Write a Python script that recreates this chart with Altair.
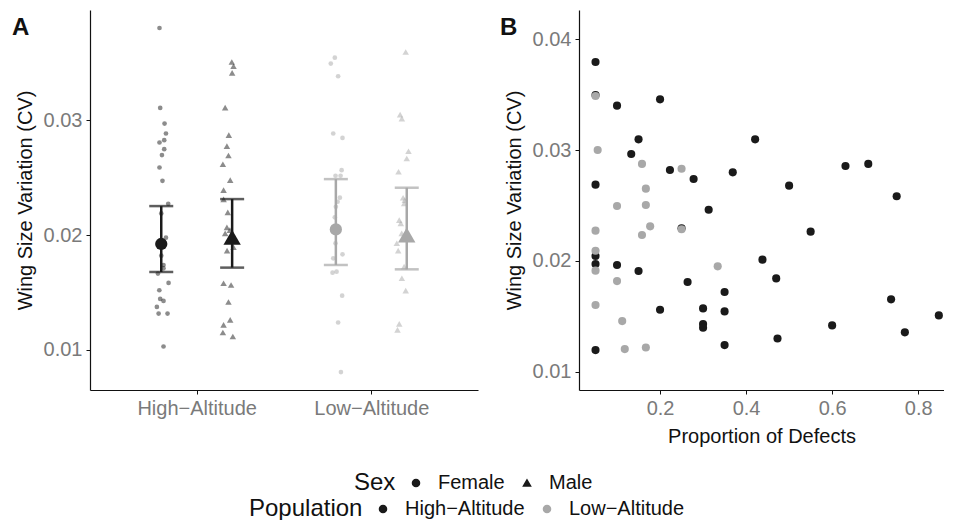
import altair as alt
import pandas as pd

populations = ["High−Altitude", "Low−Altitude"]
sexes = ["Female", "Male"]
pop_colors = ["#1a1a1a", "#a8a8a8"]

# ---- Panel A: individual values (CV) and horizontal jitter (category units)
hf_cv = [0.03803, 0.03107, 0.02971, 0.02884, 0.02806, 0.02826, 0.02748, 0.02696, 0.02588,
         0.02472, 0.02272, 0.02188, 0.01977, 0.01820, 0.01739, 0.01710, 0.01664, 0.01583,
         0.01519, 0.01443, 0.01426, 0.01374, 0.01316, 0.01316, 0.01029]
hf_jit = [-0.010, -0.006, 0.019, 0.027, -0.010, 0.017, 0.017, 0.004, -0.010, 0.007, 0.040, 0.0,
          0.027, 0.0, 0.013, 0.013, -0.019, 0.042, -0.011, -0.006, 0.013, -0.025, -0.015, 0.036, 0.013]

hm_cv = [0.03507, 0.03470, 0.03412, 0.03110, 0.02870, 0.02774, 0.02693, 0.02617, 0.02478,
         0.02391, 0.02310, 0.02197, 0.02067, 0.02014, 0.02043, 0.01893, 0.01864, 0.01580,
         0.01565, 0.01417, 0.01261, 0.01217, 0.01151, 0.01116]
hm_jit = [-0.002, 0.008, 0.0, -0.040, -0.019, -0.030, -0.021, -0.053, -0.011, -0.049, -0.049,
          -0.025, -0.030, -0.040, -0.013, 0.008, -0.029, -0.049, -0.006, -0.021, -0.011, -0.049,
          -0.053, 0.004]

lf_cv = [0.03545, 0.03493, 0.03383, 0.02884, 0.02846, 0.02565, 0.02516, 0.02516, 0.02325,
         0.02290, 0.02246, 0.02154, 0.01928, 0.01797, 0.01832, 0.01672, 0.01681, 0.01472,
         0.01238, 0.00806]
lf_jit = [-0.006, -0.029, 0.013, -0.015, 0.038, 0.033, -0.002, 0.027, 0.023, 0.010, 0.0, -0.006,
          -0.002, -0.015, 0.038, -0.019, 0.004, 0.036, 0.013, 0.029]

lm_cv = [0.03594, 0.03049, 0.03014, 0.02730, 0.02667, 0.02551, 0.02325, 0.02304, 0.02275,
         0.02130, 0.02101, 0.02014, 0.01928, 0.01864, 0.01725, 0.01623, 0.01516, 0.01226, 0.01174]
lm_jit = [-0.006, -0.038, -0.028, 0.010, 0.0, -0.047, -0.021, -0.011, -0.015, -0.043, -0.034,
          -0.029, -0.057, -0.049, -0.015, -0.028, -0.006, -0.043, -0.053]

# ---- Panel A: group means and error bars (HF, HM, LF, LM)
sum_pop = ["High−Altitude", "High−Altitude", "Low−Altitude", "Low−Altitude"]
sum_sex = ["Female", "Male", "Female", "Male"]
sum_mean = [0.01922, 0.01980, 0.02049, 0.02000]
sum_lo = [0.01678, 0.01716, 0.01739, 0.01701]
sum_hi = [0.02252, 0.02313, 0.02487, 0.02412]

# ---- Panel B
high_prop = [0.05, 0.05, 0.10, 0.20, 0.15, 0.133, 0.421, 0.223, 0.278, 0.369, 0.05, 0.50,
             0.631, 0.684, 0.75, 0.313, 0.55, 0.25, 0.05, 0.05, 0.10, 0.15, 0.438, 0.47,
             0.264, 0.35, 0.737, 0.20, 0.30, 0.35, 0.30, 0.30, 0.60, 0.848, 0.769, 0.473,
             0.35, 0.05]
high_cv = [0.03795, 0.03497, 0.03401, 0.03458, 0.03097, 0.02965, 0.03097, 0.02820, 0.02739,
           0.02799, 0.02688, 0.02679, 0.02856, 0.02875, 0.02583, 0.02462, 0.02264, 0.02294,
           0.02044, 0.01972, 0.01963, 0.01909, 0.02011, 0.01842, 0.01809, 0.01719, 0.01653,
           0.01559, 0.01571, 0.01544, 0.01430, 0.01397, 0.01418, 0.01508, 0.01355, 0.01300,
           0.01240, 0.01195]
low_prop = [0.05, 0.055, 0.158, 0.25, 0.167, 0.10, 0.167, 0.05, 0.177, 0.158, 0.25, 0.05,
            0.05, 0.10, 0.334, 0.05, 0.112, 0.118, 0.167]
low_cv = [0.03488, 0.03001, 0.02875, 0.02832, 0.02652, 0.02495, 0.02504, 0.02273, 0.02312,
          0.02234, 0.02285, 0.02092, 0.01912, 0.01818, 0.01951, 0.01602, 0.01457, 0.01204,
          0.01219]

DODGE = 0.203
FONT = "Liberation Sans"


def pos_of(pop, sex):
    return populations.index(pop) + 1 + (-DODGE if sex == "Female" else DODGE)


rows = []
for pop, sex, cvs, jits in [
    (populations[0], "Female", hf_cv, hf_jit),
    (populations[0], "Male", hm_cv, hm_jit),
    (populations[1], "Female", lf_cv, lf_jit),
    (populations[1], "Male", lm_cv, lm_jit),
]:
    for v, j in zip(cvs, jits):
        rows.append({"Population": pop, "Sex": sex, "cv": v, "pos": pos_of(pop, sex) + j})
pts = pd.DataFrame(rows)

summ = pd.DataFrame({"Population": sum_pop, "Sex": sum_sex, "cv": sum_mean,
                     "lo": sum_lo, "hi": sum_hi})
summ["pos"] = [pos_of(p, s) for p, s in zip(sum_pop, sum_sex)]
caps = pd.concat([
    summ[["Population", "pos"]].assign(cv=summ["lo"]),
    summ[["Population", "pos"]].assign(cv=summ["hi"]),
])

dfB = pd.concat([
    pd.DataFrame({"prop": high_prop, "cv": high_cv, "Population": populations[0]}),
    pd.DataFrame({"prop": low_prop, "cv": low_cv, "Population": populations[1]}),
])

label_expr = "datum.value == 1 ? '%s' : '%s'" % (populations[0], populations[1])

xA = alt.X("pos:Q",
           scale=alt.Scale(domain=[0.389, 2.611], nice=False, zero=False),
           axis=alt.Axis(values=[1, 2], labelExpr=label_expr, title=None))
yA_scale = alt.Scale(domain=[0.0065, 0.0396], nice=False, zero=False)
yA_axis = alt.Axis(values=[0.01, 0.02, 0.03], format=".2f", title="Wing Size Variation (CV)")


def yA(field):
    return alt.Y(field, scale=yA_scale, axis=yA_axis, title="Wing Size Variation (CV)")


color_enc = alt.Color(
    "Population:N",
    scale=alt.Scale(domain=populations, range=pop_colors),
    legend=alt.Legend(orient="none", legendX=159, legendY=489, direction="horizontal",
                      titleOrient="left", title="Population", symbolType="circle",
                      symbolSize=50, symbolOpacity=1, labelOffset=12, columnPadding=12,
                      titlePadding=10),
)
shape_enc = alt.Shape(
    "Sex:N",
    scale=alt.Scale(domain=sexes, range=["circle", "triangle-up"]),
    legend=alt.Legend(orient="none", legendX=264, legendY=463, direction="horizontal",
                      titleOrient="left", title="Sex", symbolFillColor="#1a1a1a",
                      symbolStrokeColor="#1a1a1a", symbolSize=50, symbolOpacity=1,
                      labelOffset=12, columnPadding=12, titlePadding=10),
)

jit = alt.Chart(pts).mark_point(filled=True, opacity=0.5).encode(
    x=xA, y=yA("cv:Q"), color=color_enc, shape=shape_enc,
    size=alt.Size("Sex:N", scale=alt.Scale(domain=sexes, range=[22, 42]), legend=None))
bars = alt.Chart(summ).mark_rule(strokeWidth=2.5).encode(
    x=xA, y=yA("lo:Q"), y2="hi:Q", color=color_enc)
capm = alt.Chart(caps).mark_tick(orient="horizontal", size=24, thickness=2.5).encode(
    x=xA, y=yA("cv:Q"), color=color_enc)
means = alt.Chart(summ).mark_point(filled=True, opacity=1).encode(
    x=xA, y=yA("cv:Q"), color=color_enc, shape=shape_enc,
    size=alt.Size("Sex:N", scale=alt.Scale(domain=sexes, range=[150, 300]), legend=None))
labA = alt.Chart(pd.DataFrame({"t": ["A"]})).mark_text(
    font=FONT, fontSize=24, fontWeight="bold", align="left", baseline="middle",
    color="#111111").encode(text="t:N", x=alt.value(-78), y=alt.value(18))

panelA = alt.layer(jit, bars, capm, means, labA).resolve_scale(size="independent").properties(
    width=388, height=380)

xB = alt.X("prop:Q", scale=alt.Scale(domain=[0.0116, 0.86], nice=False, zero=False),
           axis=alt.Axis(values=[0.2, 0.4, 0.6, 0.8], format=".1f",
                         title="Proportion of Defects"))
yB = alt.Y("cv:Q", scale=alt.Scale(domain=[0.00835, 0.04264], nice=False, zero=False),
           axis=alt.Axis(values=[0.01, 0.02, 0.03, 0.04], format=".2f",
                         title="Wing Size Variation (CV)"))
ptsB = alt.Chart(dfB).mark_circle(size=66, opacity=1).encode(x=xB, y=yB, color=color_enc)
labB = alt.Chart(pd.DataFrame({"t": ["B"]})).mark_text(
    font=FONT, fontSize=24, fontWeight="bold", align="left", baseline="middle",
    color="#111111").encode(text="t:N", x=alt.value(-79), y=alt.value(18))
panelB = alt.layer(ptsB, labB).properties(width=365, height=380)

chart = alt.hconcat(panelA, panelB, spacing=22).resolve_scale(
    x="independent", y="independent", color="shared"
).properties(
    padding={"left": 4, "top": 2, "right": 0, "bottom": 0}
).configure(font=FONT).configure_view(stroke=None).configure_axis(
    grid=False, domainColor="#111111", domainWidth=1.2, tickColor="#111111", tickSize=4,
    labelFont=FONT, labelFontSize=20, labelColor="#7a7a7a", labelPadding=4,
    titleFont=FONT, titleFontSize=20, titleFontWeight="normal", titleColor="#111111",
    titlePadding=8,
).configure_legend(
    labelFont=FONT, labelFontSize=20, labelColor="#111111",
    titleFont=FONT, titleFontSize=24, titleFontWeight="normal", titleColor="#111111",
)

chart.save("out.html", embed_options={"renderer": "svg", "actions": False})
